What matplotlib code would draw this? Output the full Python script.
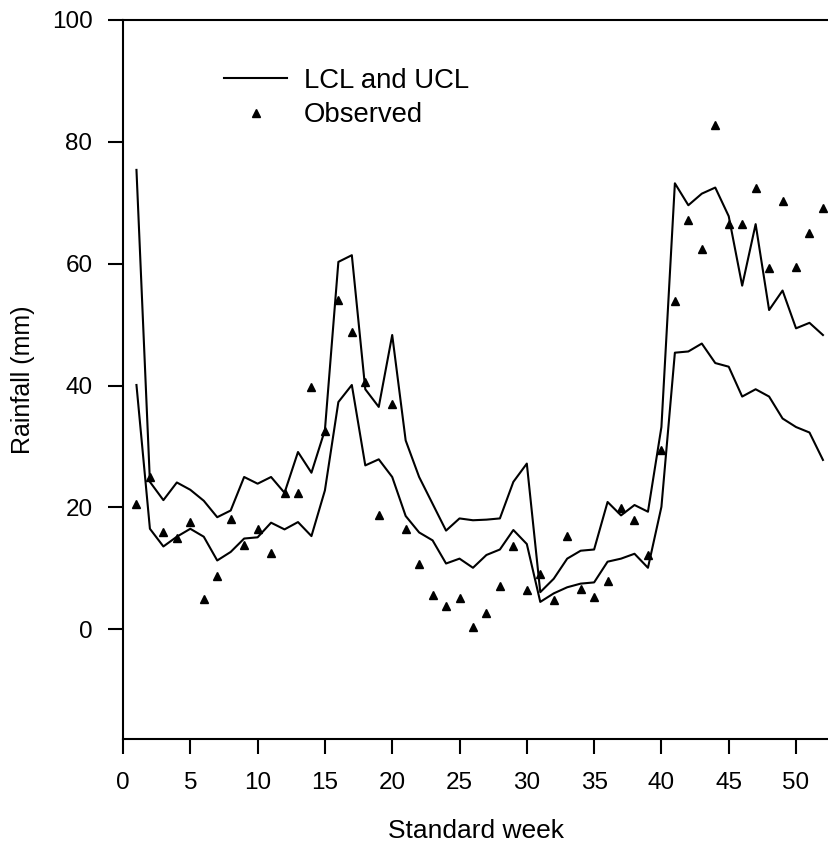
import numpy as np
import matplotlib
matplotlib.use("Agg")
import matplotlib.pyplot as plt

plt.rcParams['font.family'] = ['Liberation Sans', 'DejaVu Sans']

weeks = np.arange(1, 53)

ucl = [75.4, 24.2, 21.2, 24.1, 22.9, 21.1, 18.4, 19.5, 25.0, 23.9,
       25.0, 22.4, 29.1, 25.7, 32.7, 60.3, 61.4, 39.4, 36.5, 48.3,
       31.0, 25.0, 20.6, 16.2, 18.2, 17.9, 18.0, 18.2, 24.2, 27.2,
       6.1, 8.3, 11.6, 12.9, 13.1, 20.9, 18.7, 20.4, 19.3, 33.2,
       73.2, 69.6, 71.5, 72.5, 67.8, 56.4, 66.5, 52.4, 55.6, 49.4,
       50.3, 48.3]

lcl = [40.1, 16.5, 13.6, 15.2, 16.5, 15.2, 11.3, 12.7, 14.9, 15.1,
       17.5, 16.4, 17.6, 15.3, 22.8, 37.3, 40.1, 26.9, 27.9, 25.0,
       18.6, 15.9, 14.6, 10.8, 11.6, 10.1, 12.2, 13.1, 16.3, 14.0,
       4.5, 5.9, 6.9, 7.5, 7.7, 11.1, 11.6, 12.4, 10.1, 20.1,
       45.4, 45.6, 46.9, 43.7, 43.1, 38.2, 39.4, 38.2, 34.6, 33.2,
       32.3, 27.8]

observed = [20.6, 25.0, 16.0, 15.0, 17.6, 4.9, 8.7, 18.1, 13.8, 16.4,
            12.6, 22.3, 22.4, 39.7, 32.6, 54.1, 48.8, 40.6, 18.7, 36.9,
            16.4, 10.8, 5.7, 3.8, 5.2, 0.4, 2.7, 7.1, 13.7, 6.5,
            9.0, 4.8, 15.3, 6.6, 5.3, 7.9, 19.9, 17.9, 12.2, 29.4,
            53.9, 67.2, 62.4, 82.8, 66.5, 66.5, 72.5, 59.3, 70.3, 59.5,
            65.0, 69.2]

x_ticks = np.arange(0, 51, 5)
y_ticks = np.arange(0, 101, 20)

fig = plt.figure(figsize=(8.29, 8.48), dpi=100)
ax = fig.add_axes([123 / 829, 109 / 848, 706 / 829, 719 / 848])

ax.plot(weeks, ucl, 'k-', lw=1.5, label='LCL and UCL')
ax.plot(weeks, lcl, 'k-', lw=1.5)
ax.plot(weeks, observed, 'k^', ms=5.5, ls='none', label='Observed')

ax.set_xlim(0, 52.45)
ax.set_ylim(-18, 100)
ax.set_xticks(x_ticks)
ax.set_yticks(y_ticks)
ax.tick_params(direction='out', length=11, width=1.5, labelsize=17.5)
ax.tick_params(axis='x', pad=13)
ax.tick_params(axis='y', pad=11)
ax.spines['right'].set_visible(False)
for s in ['left', 'bottom', 'top']:
    ax.spines[s].set_linewidth(1.5)

ax.set_xlabel('Standard week', fontsize=19, labelpad=18)
ax.set_ylabel('Rainfall (mm)', fontsize=18, labelpad=12)

ax.legend(loc='upper left', bbox_to_anchor=(224 / 829, 1 - 68 / 848),
          bbox_transform=fig.transFigure, frameon=False, fontsize=19.8,
          handlelength=2.3, handletextpad=0.6, labelspacing=0.3,
          borderpad=0, borderaxespad=0, numpoints=1)

plt.savefig("out.png", dpi=100)
